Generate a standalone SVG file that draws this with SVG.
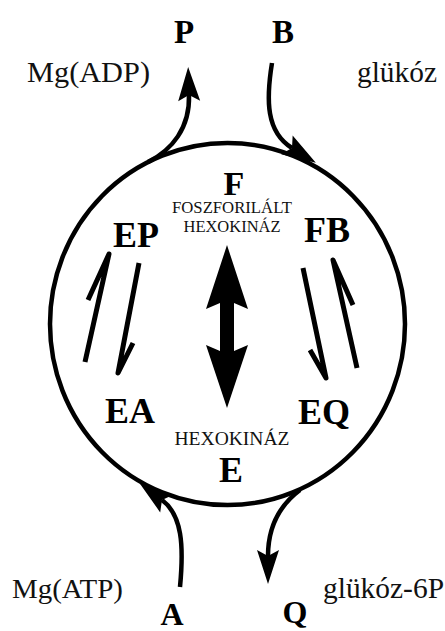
<svg xmlns="http://www.w3.org/2000/svg" width="445" height="631" viewBox="0 0 445 631">
<style>
  text { font-family: 'Liberation Serif', 'Times New Roman', serif; }
  .big { font-weight: bold; fill: #000; text-anchor: middle; }
  .lbl { fill: #111; }
  .small { fill: #111; text-anchor: middle; }
  .line { fill: none; stroke: #000; stroke-width: 4.5; }
  .harp { fill: none; stroke: #000; stroke-width: 5; stroke-linejoin: round; stroke-linecap: butt; }
</style>
<defs>
  <marker id="head" markerUnits="userSpaceOnUse" markerWidth="40" markerHeight="30" viewBox="-2 -14 40 28" refX="6" refY="0" orient="auto" overflow="visible">
    <path d="M0,-11 L34,0 L0,11 L6,0 Z" fill="#000"/>
  </marker>
</defs>
<rect width="445" height="631" fill="#fff"/>

<g id="cycle">
  <ellipse cx="227.5" cy="324" rx="177.5" ry="181" class="line"/>
</g>

<g id="connectors">
  <path d="M148 162 C172 150, 190 128, 189 95" class="line" marker-end="url(#head)"/>
  <path d="M272 63 C266 100, 266 132, 292 148" class="line" marker-end="url(#head)"/>
  <path d="M180 587 C184 545, 182 515, 162 500" class="line" marker-end="url(#head)"/>
  <path d="M300 490 C280 505, 268 525, 268 556" class="line" marker-end="url(#head)"/>
  <path id="harp-ep-up" d="M85 362 L109 254 L88 300" class="harp"/>
  <path id="harp-ep-down" d="M139 263 L118 373 L133 343" class="harp"/>
  <path id="harp-fb-down" d="M303 268 L326 378 L310 350" class="harp"/>
  <path id="harp-eq-up" d="M357 368 L333 260 L353 305" class="harp"/>
  <polygon id="double-arrow" points="227,245 248,309 234,303 234,351 248,345 227,408 206,345 220,351 220,303 206,309" fill="#000"/>
</g>

<g id="node-P"><text x="184" y="43" class="big" font-size="33">P</text></g>
<g id="node-B"><text x="283" y="43" class="big" font-size="33">B</text></g>
<g id="label-MgADP"><text x="27" y="82" class="lbl" font-size="29" textLength="123" lengthAdjust="spacingAndGlyphs">Mg(ADP)</text></g>
<g id="label-glukoz"><text x="357" y="82" class="lbl" font-size="29" textLength="80" lengthAdjust="spacingAndGlyphs">glükóz</text></g>

<g id="node-F">
  <text x="234" y="195" class="big" font-size="34">F</text>
  <text x="232" y="213" class="small" font-size="16" textLength="120" lengthAdjust="spacingAndGlyphs">FOSZFORILÁLT</text>
  <text x="232" y="232" class="small" font-size="16" textLength="97" lengthAdjust="spacingAndGlyphs">HEXOKINÁZ</text>
</g>
<g id="node-EP"><text x="136" y="247" class="big" font-size="36">EP</text></g>
<g id="node-FB"><text x="327" y="242" class="big" font-size="36">FB</text></g>
<g id="node-EA"><text x="130" y="423" class="big" font-size="36">EA</text></g>
<g id="node-EQ"><text x="324" y="424" class="big" font-size="36">EQ</text></g>
<g id="node-E">
  <text x="232" y="445" class="small" font-size="18.5" textLength="115" lengthAdjust="spacingAndGlyphs">HEXOKINÁZ</text>
  <text x="231" y="482" class="big" font-size="36">E</text>
</g>

<g id="label-MgATP"><text x="12" y="598" class="lbl" font-size="28" textLength="111" lengthAdjust="spacingAndGlyphs">Mg(ATP)</text></g>
<g id="label-glukoz6P"><text x="323" y="598" class="lbl" font-size="29" textLength="121" lengthAdjust="spacingAndGlyphs">glükóz-6P</text></g>
<g id="node-A"><text x="172" y="625" class="big" font-size="32">A</text></g>
<g id="node-Q"><text x="295" y="623" class="big" font-size="32">Q</text></g>
</svg>
